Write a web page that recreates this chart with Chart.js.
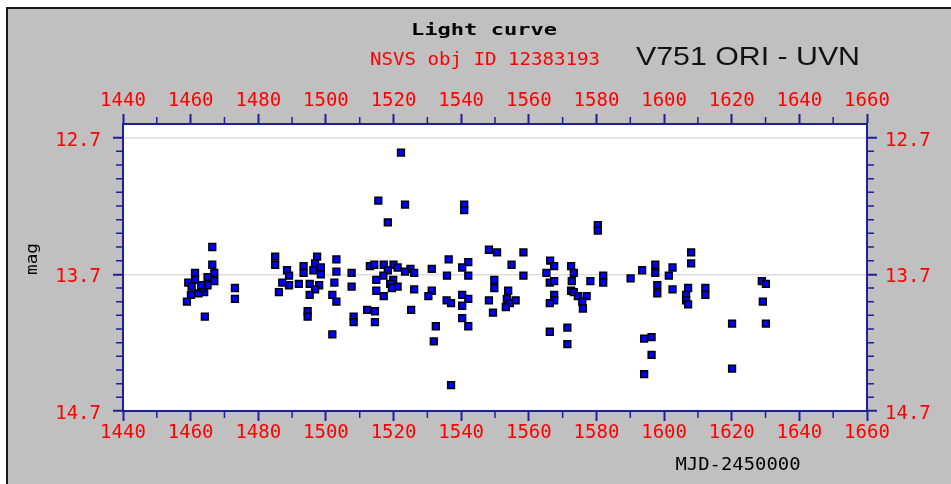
<!DOCTYPE html>
<html><head><meta charset="utf-8">
<script src="https://cdn.jsdelivr.net/npm/chart.js@4/dist/chart.umd.min.js"></script>
<style>
html,body{margin:0;padding:0;background:#fff;width:951px;height:484px;overflow:hidden;}
#frame{position:absolute;left:6px;top:7px;width:945px;height:477px;background:#c0c0c0;border-left:2px solid #1a1a1a;border-top:2px solid #1a1a1a;box-sizing:border-box;}
#wrap{position:absolute;left:0;top:0;width:951px;height:484px;}
</style></head><body>
<div id="frame"></div>
<div id="wrap"><canvas id="c" width="951" height="484"></canvas></div>
<script>
const days = [1466.4,1466.4,1467.0,1467.0,1465.0,1465.0,1464.0,1461.3,1461.3,1459.3,1460.3,1460.1,1462.3,1463.3,1463.1,1458.9,1464.2,1473.1,1473.1,1485.0,1485.0,1486.1,1488.5,1489.1,1489.1,1487.1,1492.0,
1522.2,1515.5,1523.4,1518.3,1497.4,1503.1,1493.4,1496.8,1498.5,1493.4,1496.3,1498.5,1503.1,1507.6,1495.2,1498.0,1496.8,1495.2,1502.5,1501.9,1503.1,1507.6,1494.6,1494.6,1508.2,1508.2,1501.9,1512.2,1514.5,1514.5,1525.2,
1513.0,1514.3,1517.1,1520.0,1521.2,1518.3,1525.0,1526.1,1523.4,1514.9,1517.0,1519.9,1519.0,1521.2,1514.9,1517.1,1519.5,1526.1,
1540.9,1540.9,1548.2,1550.6,1558.4,1536.3,1542.1,1540.3,1531.3,1554.9,1535.8,1542.1,1558.4,1549.8,1549.8,1531.3,1530.3,1535.7,1537.0,1540.3,1542.1,1540.3,1548.2,1549.4,1553.9,1553.5,1554.4,1556.1,1553.2,1532.5,1531.9,1540.3,1542.1,1537.0,
1580.4,1580.4,1566.3,1567.5,1565.2,1572.5,1573.3,1582.0,1582.0,1566.2,1567.5,1572.7,1578.2,1567.5,1567.5,1566.2,1572.5,1573.3,1574.5,1577.1,1575.8,1576.0,1566.2,1571.4,1571.4,
1608.0,1608.0,1597.4,1597.4,1593.5,1590.1,1602.5,1601.4,1598.0,1598.0,1602.5,1607.1,1606.5,1606.5,1607.1,1612.2,1612.2,1628.9,1630.1,1629.2,1620.1,1630.1,1594.1,1596.3,1596.3,1594.1,1620.1];
const mags = [13.50,13.63,13.69,13.75,13.72,13.78,13.83,13.69,13.74,13.76,13.79,13.85,13.84,13.80,13.78,13.90,14.01,13.80,13.88,13.57,13.63,13.83,13.67,13.71,13.78,13.76,13.77,
12.81,13.16,13.19,13.32,13.57,13.59,13.64,13.62,13.65,13.69,13.67,13.70,13.68,13.69,13.77,13.78,13.81,13.85,13.76,13.85,13.90,13.79,13.97,14.01,14.01,14.05,14.14,13.96,13.97,14.05,13.96,
13.64,13.63,13.63,13.63,13.65,13.67,13.66,13.69,13.68,13.74,13.71,13.74,13.77,13.79,13.82,13.86,13.80,13.81,
13.19,13.23,13.52,13.54,13.54,13.59,13.61,13.65,13.66,13.63,13.71,13.71,13.71,13.74,13.80,13.82,13.86,13.89,13.91,13.85,13.88,13.93,13.89,13.98,13.82,13.88,13.91,13.89,13.94,14.08,14.19,14.02,14.08,14.51,
13.34,13.38,13.60,13.64,13.69,13.64,13.69,13.71,13.76,13.76,13.75,13.75,13.75,13.85,13.89,13.91,13.82,13.83,13.86,13.86,13.90,13.95,14.12,14.09,14.21,
13.54,13.62,13.63,13.69,13.67,13.73,13.65,13.71,13.78,13.84,13.81,13.80,13.85,13.89,13.92,13.80,13.85,13.75,13.77,13.90,14.06,14.06,14.17,14.16,14.29,14.43,14.39];

const xTicks = [1440,1460,1480,1500,1520,1540,1560,1580,1600,1620,1640,1660];
const xMinorTicks = [1450,1470,1490,1510,1530,1550,1570,1590,1610,1630,1650];
const yTicks = [12.7,13.7,14.7];
const yMinorTicks = [12.8,12.9,13.0,13.1,13.2,13.3,13.4,13.5,13.6,13.8,13.9,14.0,14.1,14.2,14.3,14.4,14.5,14.6];

const titleText = 'Light curve';
const subtitleText = 'NSVS obj ID 12383193';
const starText = 'V751 ORI - UVN';
const xTitle = 'MJD-2450000';
const yTitle = 'mag';

const AX = '#1f1f9e';
const TICKFONT = {family: 'DejaVu Sans Mono', size: 19};

function xAxis(pos, h, pad) {
  return {
    type: 'linear', position: pos, min: 1440, max: 1660,
    afterBuildTicks: s => { s.ticks = xTicks.map(v => ({value: v})); },
    afterFit: s => { s.height = h; },
    ticks: {color: '#ff0000', font: TICKFONT, padding: pad, maxRotation: 0, autoSkip: false,
      callback: v => String(v)},
    grid: {drawOnChartArea: false, tickColor: AX, tickLength: 10, tickWidth: 2},
    border: {color: AX, width: 2}
  };
}
function yAxis(pos, w, pad, grid) {
  return {
    type: 'linear', position: pos, min: 12.6, max: 14.7, reverse: true,
    afterBuildTicks: s => { s.ticks = yTicks.map(v => ({value: v})); },
    afterFit: s => { s.width = w; },
    ticks: {color: '#ff0000', font: TICKFONT, padding: pad, labelOffset: 3, autoSkip: false,
      callback: v => v.toFixed(1)},
    grid: {drawOnChartArea: grid, color: '#dcdcdc', lineWidth: 1.5, tickColor: AX, tickLength: 10, tickWidth: 2},
    border: {color: AX, width: 2}
  };
}

const bgPlugin = {
  id: 'bg',
  beforeDraw(chart) {
    const {ctx, chartArea: a} = chart;
    ctx.save();
    ctx.fillStyle = '#ffffff';
    ctx.fillRect(a.left, a.top, a.right - a.left, a.bottom - a.top);
    ctx.restore();
  }
};

function drawText(ctx, text, cx, cy, font, color, targetW, rot) {
  ctx.save();
  ctx.font = font;
  ctx.fillStyle = color;
  ctx.textAlign = 'center';
  ctx.textBaseline = 'middle';
  ctx.translate(cx, cy);
  if (rot) ctx.rotate(rot);
  if (targetW) {
    const w = ctx.measureText(text).width;
    ctx.scale(targetW / w, 1);
  }
  ctx.fillText(text, 0, 0);
  ctx.restore();
}

const decoPlugin = {
  id: 'deco',
  afterDraw(chart) {
    const ctx = chart.ctx;
    const s = chart.scales;
    ctx.save();
    ctx.strokeStyle = AX;
    ctx.lineWidth = 1.5;
    ctx.beginPath();
    xMinorTicks.forEach(v => {
      const px = s.x.getPixelForValue(v);
      ctx.moveTo(px, s.x.top); ctx.lineTo(px, s.x.top + 7);
      ctx.moveTo(px, s.x2.bottom); ctx.lineTo(px, s.x2.bottom - 7);
    });
    yMinorTicks.forEach(v => {
      const py = s.y.getPixelForValue(v);
      ctx.moveTo(s.y.right, py); ctx.lineTo(s.y.right - 7, py);
      ctx.moveTo(s.y2.left, py); ctx.lineTo(s.y2.left + 7, py);
    });
    ctx.stroke();
    ctx.restore();

    drawText(ctx, titleText, 484, 31, 'bold 16px "DejaVu Sans Mono"', '#000', 146);
    drawText(ctx, subtitleText, 485, 60, '18px "DejaVu Sans Mono"', '#ff0000', 230);
    drawText(ctx, starText, 748, 58, '25px "Liberation Sans"', '#111', 224);
    drawText(ctx, xTitle, 738, 466, '17px "DejaVu Sans Mono"', '#000', 125);
    drawText(ctx, yTitle, 33, 259, '16px "DejaVu Sans Mono"', '#000', 32, -Math.PI / 2);
  }
};

new Chart(document.getElementById('c'), {
  type: 'scatter',
  data: {
    datasets: [{
      data: days.map((d, i) => ({x: d, y: mags[i]})),
      xAxisID: 'x', yAxisID: 'y',
      pointStyle: 'rect', pointRadius: 4.8, pointHoverRadius: 4.8,
      backgroundColor: '#0000ff', borderColor: '#000000', borderWidth: 1.5
    }]
  },
  options: {
    responsive: false, animation: false, events: [],
    layout: {padding: 0},
    plugins: {legend: {display: false}, tooltip: {enabled: false}, title: {display: false}},
    scales: {
      x: xAxis('bottom', 73, 1),
      x2: xAxis('top', 124, 2),
      y: yAxis('left', 123, 12, true),
      y2: yAxis('right', 84, 8, false)
    }
  },
  plugins: [bgPlugin, decoPlugin]
});
</script>
</body></html>
